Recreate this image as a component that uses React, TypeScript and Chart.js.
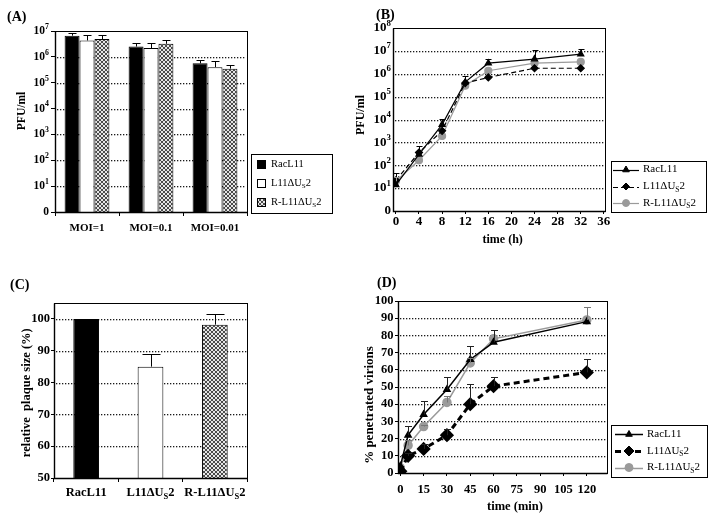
import React, { useEffect, useRef } from 'react';
import { Chart, registerables } from 'chart.js';
Chart.register(...registerables);

const FONT = "'Liberation Serif', 'Times New Roman', Times, serif";

// ---------------- data ----------------
const seriesNames = ['RacL11', 'L11ΔU_S2', 'R-L11ΔU_S2'];

// Panel A
const moiGroups = ['MOI=1', 'MOI=0.1', 'MOI=0.01'];
const aRac = [6.6e6, 2.5e6, 5.6e5];
const aL11 = [4.3e6, 2.2e6, 4.0e5];
const aRL11 = [4.9e6, 3.2e6, 3.5e5];
const aRacErr = [8.7e6, 3.5e6, 7.6e5];
const aL11Err = [6.9e6, 3.5e6, 6.9e5];
const aRL11Err = [7.2e6, 4.6e6, 4.9e5];
const aTickValues = [1, 10, 100, 1e3, 1e4, 1e5, 1e6, 1e7];
const aTickLabels = ['0', '10^1', '10^2', '10^3', '10^4', '10^5', '10^6', '10^7'];

// Panel B
const bHours = [0, 4, 8, 12, 16, 24, 32];
const bRac = [14, 300, 6000, 4.3e5, 2.9e6, 4.4e6, 7.2e6];
const bL11 = [22, 360, 3200, 3.9e5, 6.9e5, 1.74e6, 1.74e6];
const bRL11 = [20, 165, 1900, 3.0e5, 1.35e6, 2.9e6, 3.3e6];
const bRacErr = [null, 700, 11000, 8.1e5, 4.6e6, 1.05e7, 1.23e7];
const bL11Err = [45, null, null, null, null, null, null];
const bRL11Err = [30, null, null, null, null, null, null];
const bTickValues = [1, 10, 100, 1e3, 1e4, 1e5, 1e6, 1e7, 1e8];
const bTickLabels = ['0', '10^1', '10^2', '10^3', '10^4', '10^5', '10^6', '10^7', '10^8'];
const bHourTicks = [0, 4, 8, 12, 16, 20, 24, 28, 32, 36];
const bHourLabels = ['0', '4', '8', '12', '16', '20', '24', '28', '32', '36'];

// Panel C
const cValues = [100, 85, 98.2];
const cErr = [null, 89, 101.5];
const cTicks = [50, 60, 70, 80, 90, 100];
const cTickLabels = ['50', '60', '70', '80', '90', '100'];

// Panel D
const dMinutes = [0, 5, 15, 30, 45, 60, 120];
const dRac = [4, 22, 34, 48.5, 66, 76, 88];
const dL11 = [1, 10, 14, 22, 40, 50.5, 58.5];
const dRL11 = [3, 16, 27, 41, 64, 78, 89];
const dRacErr = [null, 27.5, 42, 56, 74, 83, null];
const dL11Err = [null, 11.5, 17, 25.5, 51.5, 55.7, 66.5];
const dRL11Err = [null, 19, 28, 45, 67, null, 96.5];
const dYTicks = [0, 10, 20, 30, 40, 50, 60, 70, 80, 90, 100];
const dYLabels = ['0', '10', '20', '30', '40', '50', '60', '70', '80', '90', '100'];
const dMinuteTicks = [0, 15, 30, 45, 60, 75, 90, 105, 120];
const dMinuteLabels = ['0', '15', '30', '45', '60', '75', '90', '105', '120'];

// ---------------- helpers ----------------
function parseRich(s: string) {
  const segs: { t: string; k: string }[] = [];
  for (let i = 0; i < s.length; i++) {
    const c = s[i];
    if ((c === '_' || c === '^') && i + 1 < s.length) {
      segs.push({ t: s[i + 1], k: c === '_' ? 'sub' : 'sup' });
      i++;
    } else {
      const last = segs[segs.length - 1];
      if (last && last.k === 'n') last.t += c;
      else segs.push({ t: c, k: 'n' });
    }
  }
  return segs;
}

function drawRich(ctx: any, s: string, x: number, y: number, size: number, bold: boolean, align: string, color = '#000') {
  const segs = parseRich(s);
  const w = bold ? 'bold ' : '';
  const small = size * 0.68;
  const fontFor = (k: string) => `${w}${k === 'n' ? size : small}px ${FONT}`;
  const widths = segs.map((g) => {
    ctx.font = fontFor(g.k);
    return ctx.measureText(g.t).width;
  });
  const total = widths.reduce((a, b) => a + b, 0);
  let cx = align === 'left' ? x : align === 'center' ? x - total / 2 : x - total;
  ctx.textBaseline = 'middle';
  ctx.textAlign = 'left';
  ctx.fillStyle = color;
  segs.forEach((g, i) => {
    ctx.font = fontFor(g.k);
    const dy = g.k === 'sub' ? size * 0.3 : g.k === 'sup' ? -size * 0.36 : 0;
    ctx.fillText(g.t, cx, y + dy);
    cx += widths[i];
  });
}

function drawMarker(ctx: any, style: string, x: number, y: number, r: number, fill: string, stroke: string) {
  ctx.beginPath();
  if (style === 'triangle') {
    ctx.moveTo(x, y - r);
    ctx.lineTo(x + r * 0.95, y + r * 0.65);
    ctx.lineTo(x - r * 0.95, y + r * 0.65);
    ctx.closePath();
  } else if (style === 'rectRot') {
    ctx.moveTo(x, y - r);
    ctx.lineTo(x + r, y);
    ctx.lineTo(x, y + r);
    ctx.lineTo(x - r, y);
    ctx.closePath();
  } else {
    ctx.arc(x, y, r, 0, Math.PI * 2);
  }
  ctx.fillStyle = fill;
  ctx.fill();
  ctx.strokeStyle = stroke;
  ctx.lineWidth = 1;
  ctx.stroke();
}

function makeHatch() {
  const c = document.createElement('canvas');
  c.width = 4;
  c.height = 4;
  const g = c.getContext('2d')!;
  g.fillStyle = '#e6e6e6';
  g.fillRect(0, 0, 4, 4);
  g.fillStyle = '#4a4a4a';
  [[0, 0], [1, 1], [2, 2], [3, 3], [0, 3], [1, 2], [2, 1], [3, 0]].forEach(([x, y]) => g.fillRect(x, y, 1, 1));
  return g.createPattern(c, 'repeat');
}

type Txt = { text: string; x: number; y: number; size: number; bold?: boolean; align?: string; rotate?: boolean };
type TickSpec = { axis: string; values: number[]; labels: string[]; size: number; pos: number };
type LegendSpec = { box: number[]; rows: number[]; kind: string; x1: number; x2: number; textX: number; size: number; sw?: number } | null;

function drawDots(ctx: any, x1: number, x2: number, y: number) {
  ctx.fillStyle = '#1a1a1a';
  const yy = Math.round(y);
  for (let x = Math.round(x1) + 2; x < x2 - 1; x += 3) {
    ctx.fillRect(x, yy, 1.3, 1.3);
  }
}

function decor(texts: Txt[], ticks: TickSpec[], gridValues: number[], legend: LegendSpec, capW: number) {
  return {
    id: 'decor',
    beforeDatasetsDraw(chart: any) {
      const ctx = chart.ctx;
      const a = chart.chartArea;
      const ys = chart.scales.y;
      ctx.save();
      gridValues.forEach((v) => {
        drawDots(ctx, a.left, a.right, ys.getPixelForValue(v));
      });
      ctx.restore();
    },
    afterDatasetsDraw(chart: any) {
      const ctx = chart.ctx;
      ctx.save();
      chart.data.datasets.forEach((ds: any, i: number) => {
        if (!ds.errTop) return;
        const meta = chart.getDatasetMeta(i);
        const ys = chart.scales[meta.yAxisID];
        meta.data.forEach((el: any, j: number) => {
          const e = ds.errTop[j];
          if (e === null || e === undefined) return;
          const x = Math.round(el.x) + 0.5;
          const y1 = Math.round(ys.getPixelForValue(e)) + 0.5;
          ctx.strokeStyle = ds.errColor || '#000';
          ctx.lineWidth = 1;
          ctx.setLineDash([]);
          ctx.beginPath();
          ctx.moveTo(x, el.y);
          ctx.lineTo(x, y1);
          ctx.moveTo(x - capW / 2, y1);
          ctx.lineTo(x + capW / 2, y1);
          ctx.stroke();
        });
      });
      ctx.restore();
    },
    afterDraw(chart: any) {
      const ctx = chart.ctx;
      const a = chart.chartArea;
      ctx.save();
      ctx.setLineDash([]);
      ctx.strokeStyle = '#000';
      ctx.lineWidth = 1;
      const L = Math.round(a.left) + 0.5, T = Math.round(a.top) + 0.5;
      const R = Math.round(a.right) + 0.5, B = Math.round(a.bottom) + 0.5;
      ctx.strokeRect(L, T, R - L, B - T);
      ctx.lineWidth = 1.4;
      ctx.beginPath();
      ctx.moveTo(L, T);
      ctx.lineTo(L, B);
      ctx.lineTo(R, B);
      ctx.stroke();

      ticks.forEach((t) => {
        const sc = chart.scales[t.axis];
        t.values.forEach((v, i) => {
          const p = sc.getPixelForValue(v);
          if (t.axis === 'y') drawRich(ctx, t.labels[i], t.pos, p, t.size, true, 'right');
          else drawRich(ctx, t.labels[i], p, t.pos, t.size, true, 'center');
        });
      });

      texts.forEach((t) => {
        if (t.rotate) {
          ctx.save();
          ctx.translate(t.x, t.y);
          ctx.rotate(-Math.PI / 2);
          drawRich(ctx, t.text, 0, 0, t.size, t.bold !== false, 'center');
          ctx.restore();
        } else {
          drawRich(ctx, t.text, t.x, t.y, t.size, t.bold !== false, t.align || 'center');
        }
      });

      if (legend) {
        const [bx, by, bx2, by2] = legend.box;
        ctx.strokeStyle = '#000';
        ctx.lineWidth = 1;
        ctx.strokeRect(bx + 0.5, by + 0.5, bx2 - bx, by2 - by);
        chart.data.datasets.forEach((ds: any, i: number) => {
          const y = legend.rows[i];
          if (legend.kind === 'swatch') {
            const s = legend.sw || 8;
            const bg = Array.isArray(ds.backgroundColor) ? ds.backgroundColor[i] : ds.backgroundColor;
            ctx.fillStyle = bg;
            ctx.fillRect(legend.x1, Math.round(y - s / 2), s, s);
            ctx.strokeStyle = '#000';
            ctx.lineWidth = 1;
            ctx.strokeRect(legend.x1 + 0.5, Math.round(y - s / 2) + 0.5, s, s);
          } else {
            ctx.strokeStyle = ds.borderColor;
            ctx.lineWidth = ds.borderWidth;
            ctx.setLineDash(ds.borderDash || []);
            ctx.beginPath();
            ctx.moveTo(legend.x1, Math.round(y) + 0.5);
            ctx.lineTo(legend.x2, Math.round(y) + 0.5);
            ctx.stroke();
            ctx.setLineDash([]);
            drawMarker(ctx, ds.pointStyle, (legend.x1 + legend.x2) / 2, y, ds.pointRadius, ds.pointBackgroundColor, ds.pointBorderColor);
          }
          drawRich(ctx, ds.label, legend.textX, y, legend.size, false, 'left');
        });
      }
      ctx.restore();
    },
  };
}

const fitY = (w: number) => (s: any) => {
  s.width = w;
  s.paddingTop = 0; s.paddingBottom = 0; s.paddingLeft = 0; s.paddingRight = 0;
};
const fitX = (h: number) => (s: any) => {
  s.height = h;
  s.paddingTop = 0; s.paddingBottom = 0; s.paddingLeft = 0; s.paddingRight = 0;
};
const setTicks = (values: number[]) => (s: any) => {
  s.ticks = values.map((v) => ({ value: v }));
};

function pad(L: number, T: number, R: number, B: number, cw: number, ch: number) {
  return { left: L - 30, top: T, right: cw - R, bottom: ch - B - 20 };
}

function baseOptions(padding: any) {
  return {
    responsive: false,
    animation: false,
    devicePixelRatio: 1,
    events: [],
    layout: { padding },
    plugins: { legend: { display: false }, tooltip: { enabled: false } },
  };
}

function yScale(type: string, min: number, max: number, values: number[], tickLen: number) {
  return {
    type, min, max,
    afterBuildTicks: setTicks(values),
    afterFit: fitY(30),
    ticks: { display: false },
    border: { display: false },
    grid: { drawOnChartArea: false, color: '#000', tickColor: '#000', tickLength: tickLen, drawTicks: tickLen > 0 },
  };
}

function buildA(cw: number, ch: number) {
  const hatch = makeHatch();
  return {
    type: 'bar',
    data: {
      labels: moiGroups,
      datasets: [
        { label: seriesNames[0], data: aRac, backgroundColor: '#000', borderColor: '#000', borderWidth: 1, errTop: aRacErr },
        { label: seriesNames[1], data: aL11, backgroundColor: '#fff', borderColor: '#000', borderWidth: 1, errTop: aL11Err },
        { label: seriesNames[2], data: aRL11, backgroundColor: hatch, borderColor: '#000', borderWidth: 1, errTop: aRL11Err },
      ],
    },
    options: {
      ...baseOptions(pad(55, 31, 247, 212, cw, ch)),
      datasets: { bar: { categoryPercentage: 0.7, barPercentage: 1 } },
      scales: {
        x: {
          afterFit: fitX(20), ticks: { display: false }, border: { display: false },
          grid: { offset: true, drawOnChartArea: false, tickLength: 4, color: '#000' },
        },
        y: yScale('logarithmic', 1, 1e7, aTickValues, 4),
      },
    },
    plugins: [decor(
      [
        { text: '(A)', x: 7, y: 17, size: 14, align: 'left' },
        { text: 'PFU/ml', x: 22, y: 111, size: 11.5, rotate: true },
      ],
      [
        { axis: 'y', values: aTickValues, labels: aTickLabels, size: 11.5, pos: 49 },
        { axis: 'x', values: [0, 1, 2], labels: moiGroups, size: 11, pos: 228 },
      ],
      aTickValues.slice(1, -1),
      { box: [251, 154, 332, 213], rows: [164, 183, 202], kind: 'swatch', x1: 257, x2: 265, textX: 271, size: 10.5, sw: 8 },
      8,
    )],
  };
}

function pts(xs: number[], ys: number[]) {
  return xs.map((x, i) => ({ x, y: ys[i] }));
}

function buildB(cw: number, ch: number) {
  return {
    type: 'line',
    data: {
      datasets: [
        { label: seriesNames[0], data: pts(bHours, bRac), borderColor: '#000', borderWidth: 1.2, pointStyle: 'triangle', pointRadius: 3.5, pointBackgroundColor: '#000', pointBorderColor: '#000', errTop: bRacErr, errColor: '#000', tension: 0 },
        { label: seriesNames[1], data: pts(bHours, bL11), borderColor: '#000', borderWidth: 1.2, borderDash: [5, 3], pointStyle: 'rectRot', pointRadius: 3.5, pointBackgroundColor: '#000', pointBorderColor: '#000', errTop: bL11Err, errColor: '#000', tension: 0 },
        { label: seriesNames[2], data: pts(bHours, bRL11), borderColor: '#9a9a9a', borderWidth: 1.2, pointStyle: 'circle', pointRadius: 3.5, pointBackgroundColor: '#9a9a9a', pointBorderColor: '#9a9a9a', errTop: bRL11Err, errColor: '#9a9a9a', tension: 0 },
      ],
    },
    options: {
      ...baseOptions(pad(43, 28, 255, 211, cw, ch)),
      scales: {
        x: {
          type: 'linear', min: -0.5, max: 36.2,
          afterBuildTicks: setTicks(bHourTicks), afterFit: fitX(20),
          ticks: { display: false }, border: { display: false },
          grid: { drawOnChartArea: false, tickLength: 3, color: '#000' },
        },
        y: yScale('logarithmic', 1, 1e8, bTickValues, 0),
      },
    },
    plugins: [decor(
      [
        { text: '(B)', x: 26, y: 15, size: 14, align: 'left' },
        { text: 'PFU/ml', x: 11, y: 115, size: 12, rotate: true },
        { text: 'time (h)', x: 152.7, y: 240, size: 12 },
      ],
      [
        { axis: 'y', values: bTickValues, labels: bTickLabels, size: 13, pos: 41 },
        { axis: 'x', values: bHourTicks, labels: bHourLabels, size: 13, pos: 222 },
      ],
      bTickValues.slice(1, -1),
      { box: [261, 161, 356, 212], rows: [169.5, 186.5, 203], kind: 'line', x1: 263, x2: 289, textX: 293, size: 11 },
      6,
    )],
  };
}

function buildC(cw: number, ch: number) {
  const hatch = makeHatch();
  return {
    type: 'bar',
    data: {
      labels: seriesNames,
      datasets: [
        { label: 'relative plaque size', data: cValues, backgroundColor: ['#000', '#fff', hatch], borderColor: '#000', borderWidth: 1, errTop: cErr },
      ],
    },
    options: {
      ...baseOptions(pad(54, 43, 247, 218, cw, ch)),
      datasets: { bar: { categoryPercentage: 0.4, barPercentage: 1 } },
      scales: {
        x: {
          afterFit: fitX(20), ticks: { display: false }, border: { display: false },
          grid: { offset: true, drawOnChartArea: false, tickLength: 4, color: '#000' },
        },
        y: yScale('linear', 50, 105, cTicks, 3),
      },
    },
    plugins: [decor(
      [
        { text: '(C)', x: 10, y: 25, size: 14, align: 'left' },
        { text: 'relative  plaque size (%)', x: 26.7, y: 132.7, size: 12.5, rotate: true },
      ],
      [
        { axis: 'y', values: cTicks, labels: cTickLabels, size: 12.5, pos: 50 },
        { axis: 'x', values: [0, 1, 2], labels: seriesNames, size: 12.5, pos: 233 },
      ],
      cTicks.slice(1),
      null,
      18,
    )],
  };
}

function buildD(cw: number, ch: number) {
  return {
    type: 'line',
    data: {
      datasets: [
        { label: seriesNames[0], data: pts(dMinutes, dRac), borderColor: '#000', borderWidth: 1.5, pointStyle: 'triangle', pointRadius: 3.5, pointBackgroundColor: '#000', pointBorderColor: '#000', errTop: dRacErr, errColor: '#222', tension: 0 },
        { label: seriesNames[1], data: pts(dMinutes, dL11), borderColor: '#000', borderWidth: 3, borderDash: [6, 4], pointStyle: 'rectRot', pointRadius: 5, pointBackgroundColor: '#000', pointBorderColor: '#000', errTop: dL11Err, errColor: '#222', tension: 0 },
        { label: seriesNames[2], data: pts(dMinutes, dRL11), borderColor: '#9a9a9a', borderWidth: 1.5, pointStyle: 'circle', pointRadius: 4, pointBackgroundColor: '#9a9a9a', pointBorderColor: '#9a9a9a', errTop: dRL11Err, errColor: '#777', tension: 0 },
      ],
    },
    options: {
      ...baseOptions(pad(48, 41, 257, 213, cw, ch)),
      scales: {
        x: {
          type: 'linear', min: -1.5, max: 133,
          afterBuildTicks: setTicks(dMinuteTicks), afterFit: fitX(20),
          ticks: { display: false }, border: { display: false },
          grid: { drawOnChartArea: false, tickLength: 3, color: '#000' },
        },
        y: yScale('linear', 0, 100, dYTicks, 3),
      },
    },
    plugins: [decor(
      [
        { text: '(D)', x: 27, y: 23, size: 14, align: 'left' },
        { text: '% penetrated virions', x: 20, y: 145, size: 13, rotate: true },
        { text: 'time (min)', x: 165, y: 247, size: 12.5 },
      ],
      [
        { axis: 'y', values: dYTicks, labels: dYLabels, size: 12.5, pos: 43.5 },
        { axis: 'x', values: dMinuteTicks, labels: dMinuteLabels, size: 12.5, pos: 230 },
      ],
      dYTicks.slice(1, -1),
      { box: [261, 165, 357, 217], rows: [174, 191, 207.5], kind: 'line', x1: 265, x2: 293, textX: 297, size: 11 },
      7,
    )],
  };
}

function Panel({ left, top, w, h, build }: any) {
  const ref = useRef<HTMLCanvasElement>(null);
  useEffect(() => {
    const chart = new Chart(ref.current as any, build(w, h) as any);
    return () => chart.destroy();
  }, []);
  return (
    <div style={{ position: 'absolute', left, top, width: w, height: h }}>
      <canvas ref={ref} width={w} height={h} style={{ width: w, height: h, display: 'block' }} />
    </div>
  );
}

export default function App() {
  return (
    <div style={{ position: 'fixed', left: 0, top: 0, width: 716, height: 523, background: '#fff', overflow: 'hidden' }}>
      <Panel left={0} top={0} w={350} h={260} build={buildA} />
      <Panel left={350} top={0} w={366} h={260} build={buildB} />
      <Panel left={0} top={260} w={350} h={263} build={buildC} />
      <Panel left={350} top={260} w={366} h={263} build={buildD} />
    </div>
  );
}
